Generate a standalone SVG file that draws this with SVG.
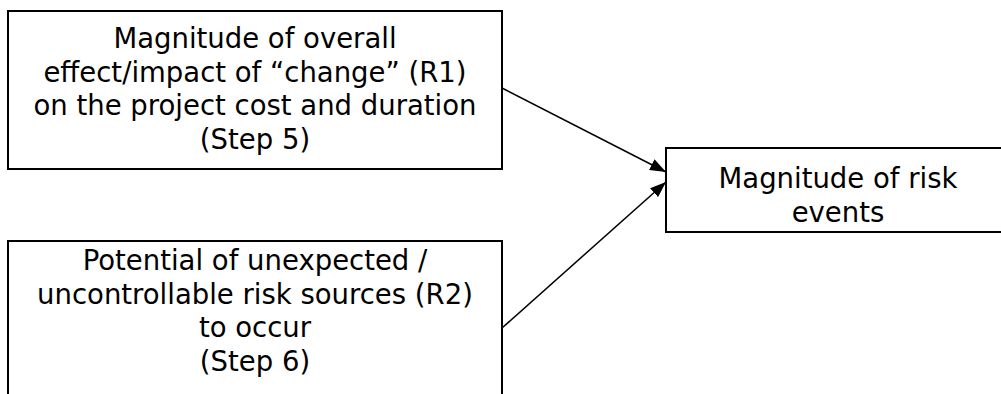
<svg xmlns="http://www.w3.org/2000/svg" width="1001" height="394" viewBox="0 0 1001 394">
<style>
.box{fill:#fff;stroke:#000;stroke-width:2}
.t{font-family:Verdana,"DejaVu Sans",sans-serif;font-size:27.5px;fill:#000;text-anchor:middle}
.c{stroke:#000;stroke-width:1.5;fill:none}
</style>
<defs>
<marker id="ah" markerUnits="userSpaceOnUse" markerWidth="16" markerHeight="12" refX="16" refY="6" orient="auto" viewBox="0 0 16 12">
<path d="M0,0 L16,6 L0,12 z" fill="#000"/>
</marker>
</defs>
<rect width="1001" height="394" fill="#fff"/>
<g id="n1">
<rect class="box" x="8" y="11" width="494" height="158"/>
<text class="t" x="255" y="48">Magnitude of overall</text>
<text class="t" x="255" y="81.5">effect/impact of “change” (R1)</text>
<text class="t" x="255" y="115">on the project cost and duration</text>
<text class="t" x="255" y="148.5">(Step 5)</text>
</g>
<g id="n2">
<rect class="box" x="8" y="241" width="494" height="170"/>
<text class="t" x="255" y="270">Potential of unexpected /</text>
<text class="t" x="255" y="303.5">uncontrollable risk sources (R2)</text>
<text class="t" x="255" y="337">to occur</text>
<text class="t" x="255" y="370.5">(Step 6)</text>
</g>
<g id="n3">
<rect class="box" x="666" y="148" width="350" height="84"/>
<text class="t" x="838" y="188">Magnitude of risk</text>
<text class="t" x="838" y="221.5">events</text>
</g>
<g id="connectors">
<line class="c" x1="502" y1="88" x2="666" y2="172" marker-end="url(#ah)"/>
<line class="c" x1="502" y1="328" x2="666" y2="182" marker-end="url(#ah)"/>
</g>
</svg>
